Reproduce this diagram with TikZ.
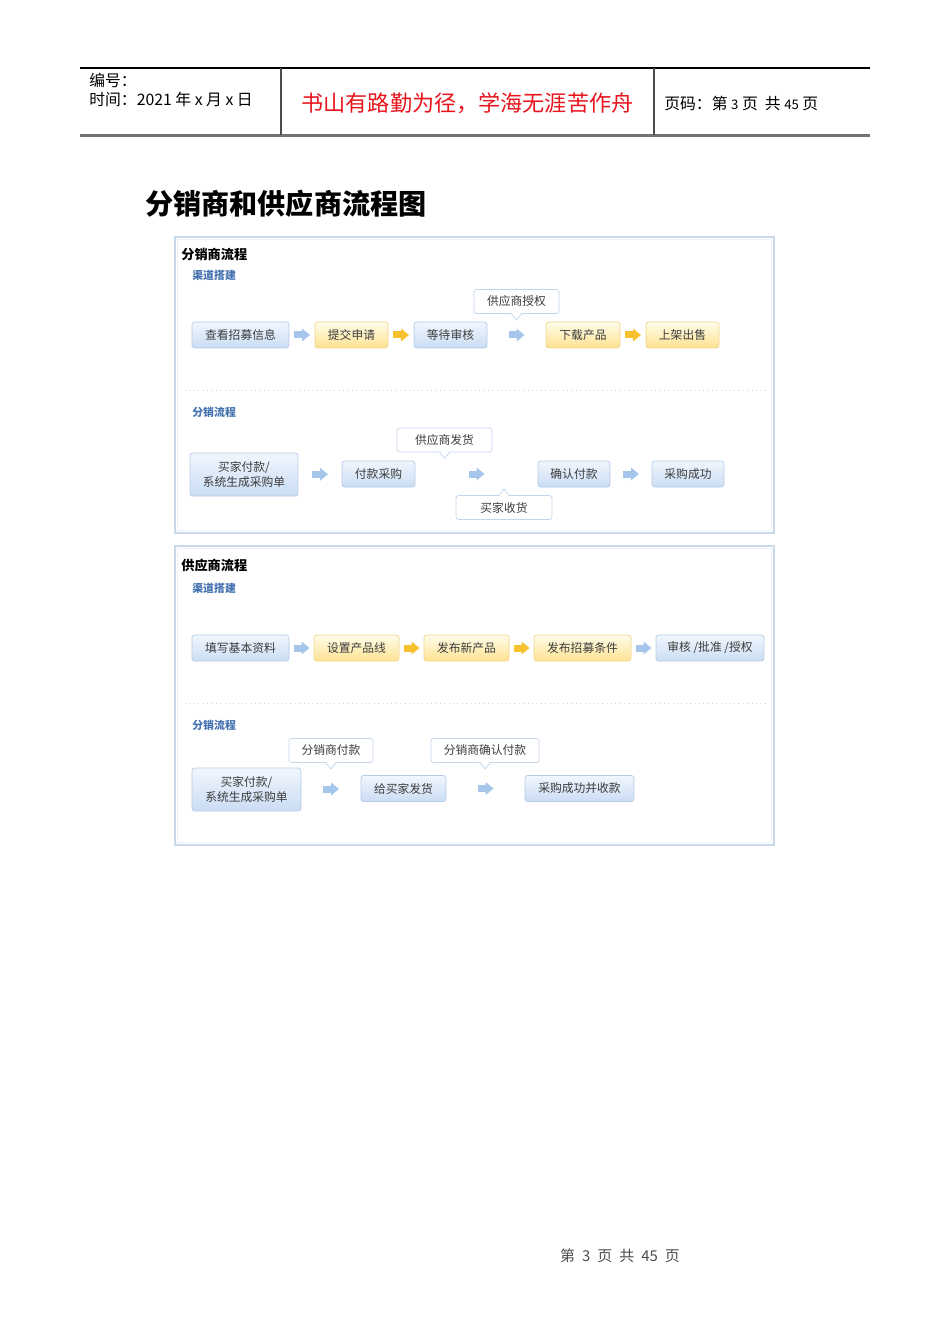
\documentclass[tikz,border=0pt]{standalone}
\usepackage{fontspec}
\setmainfont{Noto Sans CJK SC}
\usetikzlibrary{calc}
\newlength\px \setlength\px{0.02cm}
\definecolor{bbd}{HTML}{B5CCE8}
\definecolor{btop}{HTML}{F1F6FD}
\definecolor{bbot}{HTML}{CADDF4}
\definecolor{ybd}{HTML}{F0D58A}
\definecolor{ytop}{HTML}{FFFCEA}
\definecolor{ybot}{HTML}{FDE291}
\definecolor{cbd}{HTML}{C2D5EA}
\definecolor{pnl}{HTML}{C8D9EC}
\definecolor{pnlin}{HTML}{EDF2F8}
\definecolor{sec}{HTML}{4573B0}
\definecolor{txt}{HTML}{3C3C3C}
\definecolor{barr}{HTML}{A6C5EA}
\definecolor{yarr}{HTML}{F6C12C}
\definecolor{motto}{HTML}{E8141C}
\newcommand\ptrdown[1]{%
  \fill[white] ([xshift=-5\px,yshift=0.6pt]#1.south) -- ([yshift=-6\px]#1.south) -- ([xshift=5\px,yshift=0.6pt]#1.south) -- cycle;
  \draw[cbd] ([xshift=-5\px]#1.south) -- ([yshift=-6\px]#1.south) -- ([xshift=5\px]#1.south);}
\newcommand\ptrup[1]{%
  \fill[white] ([xshift=-5\px,yshift=-0.6pt]#1.north) -- ([yshift=6\px]#1.north) -- ([xshift=5\px,yshift=-0.6pt]#1.north) -- cycle;
  \draw[cbd] ([xshift=-5\px]#1.north) -- ([yshift=6\px]#1.north) -- ([xshift=5\px]#1.north);}
\begin{document}
\begin{tikzpicture}[x=0.02cm,y=-0.02cm,
  boxbase/.style={rounded corners=1.5pt, inner sep=0pt, minimum height=26\px, text=txt, font=\fontsize{6.7}{8.5}\selectfont, align=center},
  bluebox/.style={boxbase, draw=bbd, top color=btop, bottom color=bbot},
  yelbox/.style={boxbase, draw=ybd, top color=ytop, bottom color=ybot},
  callbox/.style={boxbase, draw=cbd, fill=white, minimum height=24\px},
  panel/.style={draw=pnl, line width=0.9pt},
  panelin/.style={draw=pnlin, line width=0.5pt},
  sep/.style={draw=black!18, dotted, line width=0.5pt},
  sectitle/.style={anchor=west, inner sep=0pt, font=\fontsize{7.5}{9}\selectfont\bfseries},
  seclabel/.style={anchor=west, inner sep=0pt, text=sec, font=\fontsize{6.2}{8}\selectfont\bfseries},
  plain/.style={anchor=west, inner sep=0pt},
  arr/.pic={\fill[#1] (-8,-3.5) rectangle (0.5,3.5); \fill[#1] (0,-6.5) -- (8,0) -- (0,6.5) -- cycle;}
]
\path[use as bounding box, fill=white] (0,0) rectangle (950,1344);

% header
\draw[line width=0.6pt] (80,68) -- (870,68);
\draw[black!55, line width=1.2pt] (80,135.5) -- (870,135.5);
\draw[black!70, line width=0.6pt] (281,68) -- (281,135) (654,68) -- (654,135);
\node[plain, font=\fontsize{9}{10}\selectfont] (hno) at (89,80) {编号：};
\node[plain, font=\fontsize{9}{10}\selectfont] (htime) at (89,99) {时间：2021 年 x 月 x 日};
\node[inner sep=0pt, text=motto, font=\fontsize{12.6}{14}\selectfont] (motto) at (467.5,103) {书山有路勤为径，学海无涯苦作舟};
\node[plain, font=\fontsize{9}{10}\selectfont] (hpage) at (664,103) {页码：第 {\fontsize{7.5}{9}\selectfont 3} 页\ \ 共 {\fontsize{7.5}{9}\selectfont 45} 页};

% title
\node[plain, font=\fontsize{16}{18}\selectfont\bfseries] (title) at (145,204) {分销商和供应商流程图};

% ===== panel 1 =====
\draw[panel] (175,237) rectangle (774,533);
\draw[panelin] (177.5,239.5) rectangle (771.5,530.5);
\node[sectitle] (p1t) at (181,254) {分销商流程};
\node[seclabel] (p1s1) at (192,275) {渠道搭建};
\draw[sep] (185,390) -- (765,390);
\node[seclabel] (p1s2) at (192,412) {分销流程};

\node[bluebox, minimum width=97\px] (a1) at (240.5,335) {查看招募信息};
\node[yelbox, minimum width=73\px] (a2) at (351.5,335) {提交申请};
\node[bluebox, minimum width=73\px] (a3) at (450.5,335) {等待审核};
\node[yelbox, minimum width=74\px] (a4) at (583,335) {下载产品};
\node[yelbox, minimum width=73\px] (a5) at (682.5,335) {上架出售};
\node[callbox, minimum width=85\px] (c1) at (516.5,301.5) {供应商授权};
\ptrdown{c1}
\pic at ($(a1.east)!0.5!(a2.west)$) {arr=barr};
\pic at ($(a2.east)!0.5!(a3.west)$) {arr=yarr};
\pic at ($(a3.east)!0.5!(a4.west)$) {arr=barr};
\pic at ($(a4.east)!0.5!(a5.west)$) {arr=yarr};

\node[bluebox, minimum width=108\px, minimum height=43\px] (b1) at (244,474.5) {买家付款/\\系统生成采购单};
\node[bluebox, minimum width=73\px] (b2) at (378.5,474) {付款采购};
\node[bluebox, minimum width=72\px] (b3) at (574,474) {确认付款};
\node[bluebox, minimum width=72\px] (b4) at (688,474) {采购成功};
\node[callbox, minimum width=95\px] (c2) at (444.5,440) {供应商发货};
\ptrdown{c2}
\node[callbox, minimum width=96\px] (c3) at (504,507.5) {买家收货};
\ptrup{c3}
\pic at ($(b1.east)!0.5!(b2.west)$) {arr=barr};
\pic at ($(b2.east)!0.5!(b3.west)$) {arr=barr};
\pic at ($(b3.east)!0.5!(b4.west)$) {arr=barr};

% ===== panel 2 =====
\draw[panel] (175,546) rectangle (774,845);
\draw[panelin] (177.5,548.5) rectangle (771.5,842.5);
\node[sectitle] (p2t) at (181,565) {供应商流程};
\node[seclabel] (p2s1) at (192,588) {渠道搭建};
\draw[sep] (185,703) -- (765,703);
\node[seclabel] (p2s2) at (192,725) {分销流程};

\node[bluebox, minimum width=97\px] (d1) at (240.5,648) {填写基本资料};
\node[yelbox, minimum width=85\px] (d2) at (356.5,648) {设置产品线};
\node[yelbox, minimum width=85\px] (d3) at (466.5,648) {发布新产品};
\node[yelbox, minimum width=97\px] (d4) at (582.5,648) {发布招募条件};
\node[bluebox, minimum width=108\px] (d5) at (710,648) {审核 /批准 /授权};
\pic at ($(d1.east)!0.5!(d2.west)$) {arr=barr};
\pic at ($(d2.east)!0.5!(d3.west)$) {arr=yarr};
\pic at ($(d3.east)!0.5!(d4.west)$) {arr=yarr};
\pic at ($(d4.east)!0.5!(d5.west)$) {arr=barr};

\node[bluebox, minimum width=109\px, minimum height=43\px] (e1) at (246.5,789.5) {买家付款/\\系统生成采购单};
\node[bluebox, minimum width=85\px] (e2) at (403.5,788.5) {给买家发货};
\node[bluebox, minimum width=109\px] (e3) at (579.5,788.5) {采购成功并收款};
\node[callbox, minimum width=84\px] (c4) at (331,750.5) {分销商付款};
\ptrdown{c4}
\node[callbox, minimum width=108\px] (c5) at (485,750.5) {分销商确认付款};
\ptrdown{c5}
\pic at ($(e1.east)!0.5!(e2.west)$) {arr=barr};
\pic at ($(e2.east)!0.5!(e3.west)$) {arr=barr};

% footer
\node[inner sep=0pt, text=black!70, font=\fontsize{8.5}{10}\selectfont] (foot) at (620,1256) {第\hspace{4pt}3\hspace{4pt}页\hspace{4pt}共\hspace{4pt}45\hspace{4pt}页};
\end{tikzpicture}
\end{document}
